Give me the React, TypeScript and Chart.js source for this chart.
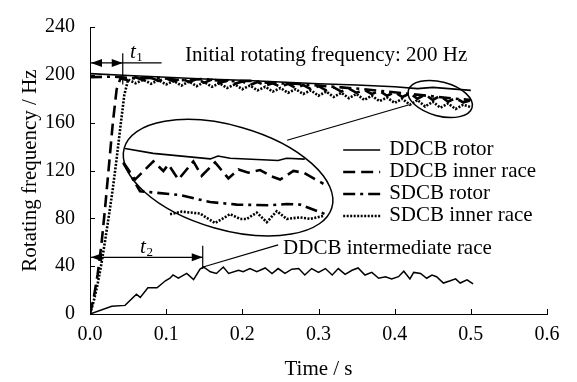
import React, { useEffect, useRef } from 'react';
import { Chart, registerables } from 'chart.js';

Chart.register(...registerables);

const FONT = "'Liberation Serif', 'Times New Roman', Times, serif";

// Axis ticks
const xTicks = [0, 0.1, 0.2, 0.3, 0.4, 0.5, 0.6];
const yTicks = [0, 40, 80, 120, 160, 200, 240];

// Legend labels
const legendLabels = ['DDCB rotor', 'DDCB inner race', 'SDCB rotor', 'SDCB inner race'];

// DDCB rotor (solid)
const ddcbRotorT = [0, 0.05, 0.1, 0.15, 0.2, 0.25, 0.3, 0.35, 0.4, 0.43, 0.45, 0.5];
const ddcbRotorV = [201, 199.5, 198, 196.5, 195.5, 194, 192.5, 191.5, 190, 188.5, 189.5, 187];

// DDCB inner race (dashed)
const ddcbInnerT = [0, 0.005, 0.01, 0.015, 0.02, 0.025, 0.03, 0.035, 0.04,
  0.05, 0.06, 0.07, 0.08, 0.09, 0.1, 0.11, 0.12, 0.13, 0.14, 0.15, 0.16, 0.17, 0.18, 0.19, 0.2,
  0.21, 0.22, 0.23, 0.24, 0.25, 0.26, 0.27, 0.28, 0.29, 0.3, 0.31, 0.32, 0.33, 0.34, 0.35,
  0.36, 0.37, 0.38, 0.39, 0.4, 0.41, 0.42, 0.43, 0.44, 0.45, 0.46, 0.47, 0.48, 0.49, 0.5];
const ddcbInnerV = [0, 14, 33, 58, 90, 125, 160, 188, 197,
  195.5, 198, 195.5, 197.5, 195, 197, 194.5, 197, 194, 196.5, 193.5, 196, 193, 195.5, 192.5, 194.5,
  191.5, 194, 191, 193, 190, 192.5, 189, 191.5, 188, 190.5, 187, 189.5, 186, 188.5, 185,
  187.5, 184, 186.5, 182.5, 185.5, 181.5, 184.5, 180, 183.5, 179, 182.5, 177.5, 180.5, 177, 178.5];

// SDCB rotor (dash-dot)
const sdcbRotorT = [0, 0.03, 0.06, 0.09, 0.12, 0.15, 0.18, 0.21, 0.24, 0.27, 0.3, 0.33, 0.36, 0.39, 0.42, 0.45, 0.48, 0.5];
const sdcbRotorV = [198, 198.5, 197, 197.5, 195.5, 196.5, 194.5, 195, 193, 192.5, 191, 189.5, 188, 186, 184, 182, 180, 179];

// SDCB inner race (dotted)
const sdcbInnerT = [0, 0.005, 0.01, 0.015, 0.02, 0.025, 0.03, 0.035, 0.04, 0.045, 0.05,
  0.06, 0.07, 0.08, 0.09, 0.1, 0.11, 0.12, 0.13, 0.14, 0.15, 0.16, 0.17, 0.18, 0.19, 0.2,
  0.21, 0.22, 0.23, 0.24, 0.25, 0.26, 0.27, 0.28, 0.29, 0.3, 0.31, 0.32, 0.33, 0.34, 0.35,
  0.36, 0.37, 0.38, 0.39, 0.4, 0.41, 0.42, 0.43, 0.44, 0.45, 0.46, 0.47, 0.48, 0.49, 0.5];
const sdcbInnerV = [0, 11, 25, 42, 62, 83, 105, 130, 157, 183, 196,
  193, 196, 192.5, 195.5, 192, 195, 191, 194.5, 190.5, 194, 190, 193, 189, 192, 188,
  191, 187, 190, 186, 189, 185, 188, 184, 187, 182.5, 186, 181.5, 185, 180.5, 184,
  179, 182.5, 178, 181, 176.5, 180, 175, 179, 173.5, 177.5, 172.5, 176, 171.5, 175, 173];

// DDCB intermediate race (solid, thin)
const ddcbMidT = [0, 0.0285, 0.046, 0.061, 0.066, 0.076, 0.088, 0.099, 0.105, 0.109, 0.116, 0.127, 0.136, 0.1445, 0.149,
  0.158, 0.166, 0.175, 0.182, 0.195, 0.201, 0.21, 0.219, 0.23, 0.239, 0.247, 0.256, 0.265, 0.274, 0.282,
  0.291, 0.3, 0.309, 0.318, 0.326, 0.335, 0.344, 0.352, 0.361, 0.37, 0.379, 0.388, 0.396, 0.405, 0.412,
  0.42, 0.425, 0.434, 0.442, 0.449, 0.455, 0.464, 0.473, 0.48, 0.486, 0.495, 0.503];
const ddcbMidV = [0, 6.4, 7.2, 16.6, 13.9, 21.9, 21.9, 27.8, 29.9, 32.7, 29.9, 33.9, 28.7, 37.5, 39.3,
  35.3, 33.9, 39.3, 33.9, 36.6, 35.3, 38, 35.3, 38.5, 33.9, 38, 33.9, 37.5, 38, 32.6,
  38, 34.8, 38, 32.6, 38, 33.2, 36.6, 38.5, 32.6, 34.8, 29.9, 31.2, 29.4, 31.2, 35.8,
  29.4, 34.8, 33.9, 29.9, 32.6, 31.2, 25.9, 27.8, 29.4, 25.9, 28.5, 25.1];

// Inset (magnified view drawn inside the big ellipse)
const insetSolidT = [0.046, 0.083, 0.158, 0.168, 0.184, 0.247, 0.258, 0.282];
const insetSolidV = [138.4, 134.3, 129.7, 132.1, 130.3, 128.4, 130.3, 129.5];
const insetDashT = [0.0438, 0.0591, 0.0832, 0.0963, 0.1029, 0.116, 0.1357, 0.1467, 0.1642, 0.1817, 0.1949, 0.208, 0.2233, 0.2387, 0.2496, 0.2671, 0.2803, 0.3065];
const insetDashV = [126.8, 112.4, 127.6, 119.6, 125.0, 112.4, 127.6, 115.6, 126.8, 113.4, 120.9, 118.2, 120.4, 115.0, 112.4, 119.6, 118.2, 108.9];
const insetDashDotT = [0.0438, 0.0657, 0.118, 0.1576, 0.1927, 0.2365, 0.2584, 0.2759, 0.3087];
const insetDashDotV = [126.2, 102.7, 99.5, 93.6, 91.5, 90.9, 92.0, 91.5, 83.5];
const insetDotT = [0.1051, 0.1204, 0.1445, 0.1642, 0.1839, 0.1971, 0.2058, 0.219, 0.2321, 0.2452, 0.2584, 0.2759, 0.289, 0.3065];
const insetDotV = [83.5, 85.6, 84.0, 76.0, 83.5, 79.5, 79.5, 84.8, 76.8, 86.0, 79.5, 80.8, 79.5, 82.1];

const pts = (t: number[], v: number[]) => t.map((x, i) => ({ x, y: v[i] }));

const STYLES = {
  solid: { borderWidth: 1.6, borderDash: [] as number[] },
  dash: { borderWidth: 2.6, borderDash: [12, 6] },
  dashDot: { borderWidth: 2.6, borderDash: [12, 5, 3, 5] },
  dot: { borderWidth: 2.6, borderDash: [2, 1.5] },
  thin: { borderWidth: 1.5, borderDash: [] as number[] },
};

function ds(label: string, t: number[], v: number[], style: { borderWidth: number; borderDash: number[] }) {
  return {
    label,
    data: pts(t, v),
    borderColor: '#000',
    backgroundColor: '#000',
    borderWidth: style.borderWidth,
    borderDash: style.borderDash,
    pointRadius: 0,
    tension: 0,
    fill: false,
  };
}

const legendStyles = [STYLES.solid, STYLES.dash, STYLES.dashDot, STYLES.dot];

function arrowHead(ctx: CanvasRenderingContext2D, x: number, y: number, dir: number) {
  ctx.beginPath();
  ctx.moveTo(x, y);
  ctx.lineTo(x - dir * 11, y - 4);
  ctx.lineTo(x - dir * 11, y + 4);
  ctx.closePath();
  ctx.fill();
}

const annotations = {
  id: 'annotations',
  afterDatasetsDraw(chart: any) {
    const { ctx, chartArea } = chart;
    const xs = chart.scales.x;
    const ys = chart.scales.y;
    const px = (t: number) => xs.getPixelForValue(t);
    const py = (v: number) => ys.getPixelForValue(v);
    ctx.save();
    ctx.strokeStyle = '#000';
    ctx.fillStyle = '#000';
    ctx.setLineDash([]);

    // inner tick marks
    ctx.lineWidth = 1;
    yTicks.forEach((v) => {
      const y = Math.round(py(v)) + 0.5;
      ctx.beginPath();
      ctx.moveTo(chartArea.left, y);
      ctx.lineTo(chartArea.left + 5, y);
      ctx.stroke();
    });
    xTicks.forEach((t) => {
      const x = Math.round(px(t)) + 0.5;
      ctx.beginPath();
      ctx.moveTo(x, chartArea.bottom);
      ctx.lineTo(x, chartArea.bottom - 5);
      ctx.stroke();
    });

    // ellipses
    ctx.lineWidth = 1.5;
    ctx.beginPath();
    ctx.ellipse(px(0.1813), py(114), 108, 52, (16 * Math.PI) / 180, 0, Math.PI * 2);
    ctx.stroke();
    ctx.beginPath();
    ctx.ellipse(px(0.4598), py(179.8), 33, 17, (15 * Math.PI) / 180, 0, Math.PI * 2);
    ctx.stroke();
    // connector
    ctx.lineWidth = 1.2;
    ctx.beginPath();
    ctx.moveTo(px(0.2588), py(145.3));
    ctx.lineTo(px(0.419), py(175));
    ctx.stroke();

    // t1 annotation
    const t1 = 0.043;
    ctx.lineWidth = 1.2;
    ctx.beginPath();
    ctx.moveTo(px(0), py(210));
    ctx.lineTo(px(0.094), py(210));
    ctx.moveTo(px(t1), py(218));
    ctx.lineTo(px(t1), py(192));
    ctx.stroke();
    arrowHead(ctx, px(0) + 1, py(210), -1);
    arrowHead(ctx, px(t1), py(210), 1);

    // t2 annotation
    const t2 = 0.148;
    ctx.beginPath();
    ctx.moveTo(px(0), py(47.4));
    ctx.lineTo(px(t2), py(47.4));
    ctx.moveTo(px(t2), py(57));
    ctx.lineTo(px(t2), py(37.7));
    ctx.stroke();
    arrowHead(ctx, px(0) + 1, py(47.4), -1);
    arrowHead(ctx, px(t2), py(47.4), 1);

    // leader line for intermediate race
    ctx.beginPath();
    ctx.moveTo(px(0.1485), py(39.3));
    ctx.lineTo(px(0.247), py(57.8));
    ctx.stroke();

    // texts
    ctx.textBaseline = 'alphabetic';
    ctx.textAlign = 'left';
    ctx.font = `21px ${FONT}`;
    ctx.fillText('Initial rotating frequency: 200 Hz', px(0.1248), py(211.9));
    ctx.fillText('DDCB intermediate race', px(0.2535), py(49.8));

    const sub = (base: string, s: string, x: number, y: number) => {
      ctx.font = `italic 21px ${FONT}`;
      ctx.fillText(base, x, y);
      const w = ctx.measureText(base).width;
      ctx.font = `13px ${FONT}`;
      ctx.fillText(s, x + w + 0.5, y + 3);
    };
    sub('t', '1', px(0.0525), py(214.3));
    sub('t', '2', px(0.0657), py(51.4));

    // legend
    const lx = px(0.3324);
    const ly0 = py(137.2);
    ctx.textBaseline = 'middle';
    legendLabels.forEach((lab, i) => {
      const y = ly0 + i * 22;
      const st = legendStyles[i];
      ctx.lineWidth = st.borderWidth;
      ctx.setLineDash(st.borderDash);
      ctx.beginPath();
      ctx.moveTo(lx, y);
      ctx.lineTo(lx + 37, y);
      ctx.stroke();
      ctx.setLineDash([]);
      ctx.font = `21px ${FONT}`;
      ctx.fillText(lab, lx + 46, y);
    });

    ctx.restore();
  },
};

export default function App() {
  const ref = useRef<HTMLCanvasElement | null>(null);
  useEffect(() => {
    if (!ref.current) return;
    const chart = new Chart(ref.current, {
      type: 'line',
      data: {
        datasets: [
          ds('DDCB rotor', ddcbRotorT, ddcbRotorV, STYLES.solid),
          ds('DDCB inner race', ddcbInnerT, ddcbInnerV, STYLES.dash),
          ds('SDCB rotor', sdcbRotorT, sdcbRotorV, STYLES.dashDot),
          ds('SDCB inner race', sdcbInnerT, sdcbInnerV, STYLES.dot),
          ds('DDCB intermediate race', ddcbMidT, ddcbMidV, STYLES.thin),
          ds('inset DDCB rotor', insetSolidT, insetSolidV, STYLES.solid),
          ds('inset DDCB inner race', insetDashT, insetDashV, STYLES.dash),
          ds('inset SDCB rotor', insetDashDotT, insetDashDotV, STYLES.dashDot),
          ds('inset SDCB inner race', insetDotT, insetDotV, STYLES.dot),
        ],
      },
      options: {
        animation: false,
        responsive: false,
        devicePixelRatio: 1,
        layout: { padding: { left: 14, top: 15, right: 30, bottom: 0 } },
        plugins: { legend: { display: false }, tooltip: { enabled: false } },
        events: [],
        scales: {
          x: {
            type: 'linear',
            min: 0,
            max: 0.6,
            afterBuildTicks: (s: any) => {
              s.ticks = xTicks.map((v) => ({ value: v }));
            },
            afterFit: (s: any) => {
              s.height = 68;
            },
            grid: { drawOnChartArea: false, drawTicks: false, color: 'rgba(0,0,0,0)' },
            border: { display: true, color: '#000', width: 1 },
            ticks: {
              color: '#000',
              padding: 9,
              maxRotation: 0,
              font: { family: FONT, size: 20 },
              callback: (v: any) => Number(v).toFixed(1),
            },
            title: {
              display: true,
              text: 'Time / s',
              color: '#000',
              font: { family: FONT, size: 21 },
              padding: { top: 0, bottom: 0 },
            },
          },
          y: {
            type: 'linear',
            min: 0,
            max: 240,
            afterBuildTicks: (s: any) => {
              s.ticks = yTicks.map((v) => ({ value: v }));
            },
            afterFit: (s: any) => {
              s.width = 76;
            },
            grid: { drawOnChartArea: false, drawTicks: false, color: 'rgba(0,0,0,0)' },
            border: { display: true, color: '#000', width: 1 },
            ticks: {
              color: '#000',
              padding: 15,
              font: { family: FONT, size: 20 },
              callback: (v: any) => String(v),
            },
            title: {
              display: true,
              text: 'Rotating frequency / Hz',
              color: '#000',
              font: { family: FONT, size: 21 },
              padding: { top: 4, bottom: 0 },
            },
          },
        },
      },
      plugins: [annotations],
    } as any);
    return () => chart.destroy();
  }, []);
  return (
    <div style={{ position: 'fixed', left: 0, top: 0, width: 577, height: 382, background: '#fff' }}>
      <canvas ref={ref} width={577} height={382} style={{ display: 'block', width: 577, height: 382 }} />
    </div>
  );
}
